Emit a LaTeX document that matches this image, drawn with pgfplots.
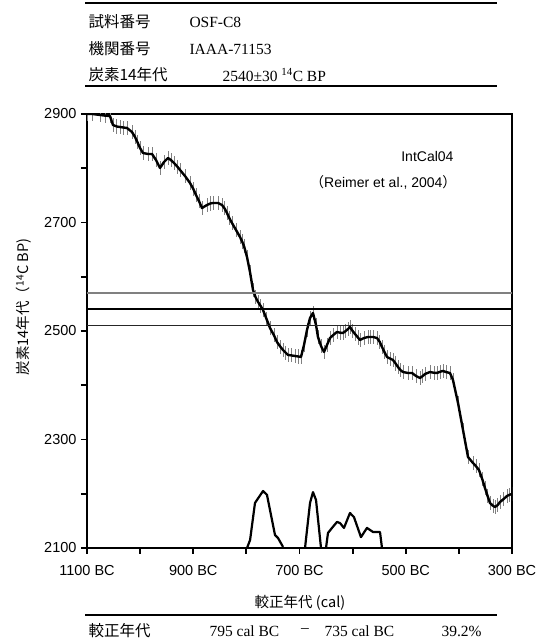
\documentclass[border=0pt]{standalone}
\usepackage{pgfplots}
\pgfplotsset{compat=1.18}
\usepackage{fontspec}
\setmainfont{Liberation Sans}
\newfontfamily\jp{Noto Sans CJK JP}
\newfontfamily\mincho{Liberation Serif}
\pgfplotstableread{
x y
1100 2900
1090 2900
1075.5 2898.2
1066 2897
1056.7 2896.3
1051.1 2879.7
1044 2877
1037.9 2876.0
1031 2875
1024.7 2874.2
1015.3 2866.8
1009.6 2857.6
1005 2848
1000.2 2837.3
994.6 2828.1
985.2 2826.3
977.6 2826.3
970.1 2815.2
962.6 2800.5
955.1 2811.5
947.5 2818.9
942 2815
936.2 2809.7
930 2803
924.9 2796.8
915.5 2785.7
906.1 2772.8
900 2762
894.8 2750.7
889 2739
883.5 2726.7
874.1 2732.3
868 2735
862.8 2736.0
853.4 2736.0
845.9 2732.3
841 2726
836.5 2717.5
832 2708
827.1 2699.1
819.5 2686.2
812.0 2673.3
808 2665
804.5 2656.7
798.8 2636.4
793.2 2608.8
787.5 2575.6
783 2563
778.1 2553.5
773 2546
768.7 2538.7
762 2522
755.5 2505.5
748 2492
742.4 2479.7
736 2471
731.1 2465.0
726 2460
721.6 2455.8
715 2455
708.5 2453.9
702 2453
697.2 2452.1
691.5 2474.2
685.9 2501.8
680.2 2524.0
674.6 2533.2
668.9 2511.1
665.2 2488.9
659.5 2472.4
653.9 2461.3
648.2 2474.2
642.6 2487.1
636 2493
629.4 2498.2
624 2497
618.2 2496.3
613 2500
608.7 2503.7
605.0 2507.4
600 2500
595.5 2494.5
590 2488
586.1 2483.4
578.6 2487.1
571.1 2488.9
566 2489
561.6 2488.9
554.1 2487.1
549 2480
544.7 2470.5
540 2461
535.3 2452.1
529 2449
524.0 2446.5
519 2440
514.6 2433.6
510 2428
505.2 2424.4
495.8 2422.6
488.2 2422.6
480.7 2417.1
473.2 2413.4
468 2417
463.8 2420.7
454.4 2424.4
447 2423
441.2 2422.6
435 2425
429.9 2426.3
423 2424
416.7 2422.6
411.1 2409.7
401.6 2367.3
392.2 2317.5
382.8 2267.7
373.4 2256.7
368 2251
362.2 2243.8
356 2227
350.9 2210.6
346 2196
341.4 2182.9
336 2178
332.0 2175.6
327 2179
322.6 2184.8
316 2190
309.4 2195.9
305 2198
300 2199.5
}\curve
\begin{document}
\begin{tikzpicture}
\useasboundingbox (0pt,0pt) rectangle (542pt,639pt);
\begin{axis}[at={(87pt,91pt)}, anchor=south west, scale only axis,
  width=425pt, height=434pt,
  xmin=300, xmax=1100, ymin=2100, ymax=2900, x dir=reverse,
  axis line style={line width=2.2pt},
  xtick={1100,900,700,500,300},
  xticklabels={1100 BC,900 BC,700 BC,500 BC,300 BC},
  minor xtick={1000,800,600,400},
  ytick={2100,2300,2500,2700,2900},
  yticklabels={2100,2300,2500,2700,2900},
  minor ytick={2200,2400,2600,2800},
  tick pos=left, tick align=outside,
  major tick length=6pt, minor tick length=6pt,
  every tick/.style={black, line width=1.8pt},
  tick label style={font=\fontsize{14.5}{16}\selectfont},
  xticklabel style={yshift=-8pt},
  yticklabel style={xshift=-1pt},
  clip=true,
]
% error bars of the calibration curve
\addplot[forget plot, draw=none, mark=none,
  error bars/.cd, y dir=both, y fixed=13, error mark=none,
  error bar style={draw=black!50, line width=0.7pt}]
  table {\curve};
% calibration curve
\addplot[black, mark=none, line width=2.4pt, line join=round] table {\curve};
% measured age and its error
\addplot[black!50, mark=none, line width=1.3pt] coordinates {(1100,2570) (300,2570)};
\addplot[black, mark=none, line width=2.4pt] coordinates {(1100,2540) (300,2540)};
\addplot[black!85, mark=none, line width=0.9pt] coordinates {(1100,2510) (300,2510)};
% probability distribution
\addplot[black, mark=none, line width=2.2pt, line join=round] coordinates {
(798.8,2100) (793,2114.8) (783.8,2183) (768.7,2205) (761.2,2198)
(746.1,2124) (740.5,2118.5) (731,2102)};
\addplot[black, mark=none, line width=2.2pt, line join=round] coordinates {
(689.6,2100) (680.2,2183) (674.6,2203) (668.9,2188.5) (659.5,2100)};
\addplot[black, mark=none, line width=2.2pt, line join=round] coordinates {
(650.1,2100) (646.4,2127.7) (638.8,2137) (629.4,2148) (623.8,2146)
(616.3,2137) (605,2164.5) (597.5,2157) (584.3,2120) (573,2137)
(561.6,2129.5) (548.5,2129.5) (544.7,2100)};
\end{axis}
% labels
\node[rotate=90, font=\jp\fontsize{14.5}{16}\selectfont] at (24pt,332pt) {炭素14年代（\textsuperscript{14}C BP)};
\node[font=\jp\fontsize{14.5}{16}\selectfont] at (300pt,36pt) {較正年代 (cal)};
\node[anchor=east, font=\fontsize{14}{16}\selectfont] at (457pt,482pt) {IntCal04};
\node[anchor=east, font=\fontsize{14}{16}\selectfont] at (460pt,457pt) {{\jp （}Reimer et al., 2004{\jp ）}};
% top table
\draw[line width=1.4pt] (85pt,636pt) -- (497pt,636pt);
\node[anchor=west, font=\jp\fontsize{15.5}{17}\selectfont] at (85pt,617pt) {試料番号};
\node[anchor=west, font=\mincho\fontsize{15.5}{17}\selectfont] at (186pt,617pt) {OSF-C8};
\node[anchor=west, font=\jp\fontsize{15.5}{17}\selectfont] at (85pt,590pt) {機関番号};
\node[anchor=west, font=\mincho\fontsize{15.5}{17}\selectfont] at (186pt,590pt) {IAAA-71153};
\node[anchor=west, font=\jp\fontsize{15.5}{17}\selectfont] at (85pt,564pt) {炭素14年代};
\node[anchor=west, font=\mincho\fontsize{15.5}{17}\selectfont] at (219pt,564pt) {2540±30 \textsuperscript{14}C BP};
\draw[line width=1.4pt] (85pt,553pt) -- (497pt,553pt);
% bottom table
\draw[line width=1.4pt] (85pt,24pt) -- (497pt,24pt);
\node[anchor=west, font=\jp\fontsize{15.5}{17}\selectfont] at (85pt,8pt) {較正年代};
\node[anchor=west, font=\mincho\fontsize{15.5}{17}\selectfont] at (206pt,8pt) {795 cal BC};
\node[font=\mincho\fontsize{15.5}{17}\selectfont] at (305pt,8pt) {–};
\node[anchor=west, font=\mincho\fontsize{15.5}{17}\selectfont] at (321pt,8pt) {735 cal BC};
\node[anchor=west, font=\mincho\fontsize{15.5}{17}\selectfont] at (438pt,8pt) {39.2\%};
\end{tikzpicture}
\end{document}
